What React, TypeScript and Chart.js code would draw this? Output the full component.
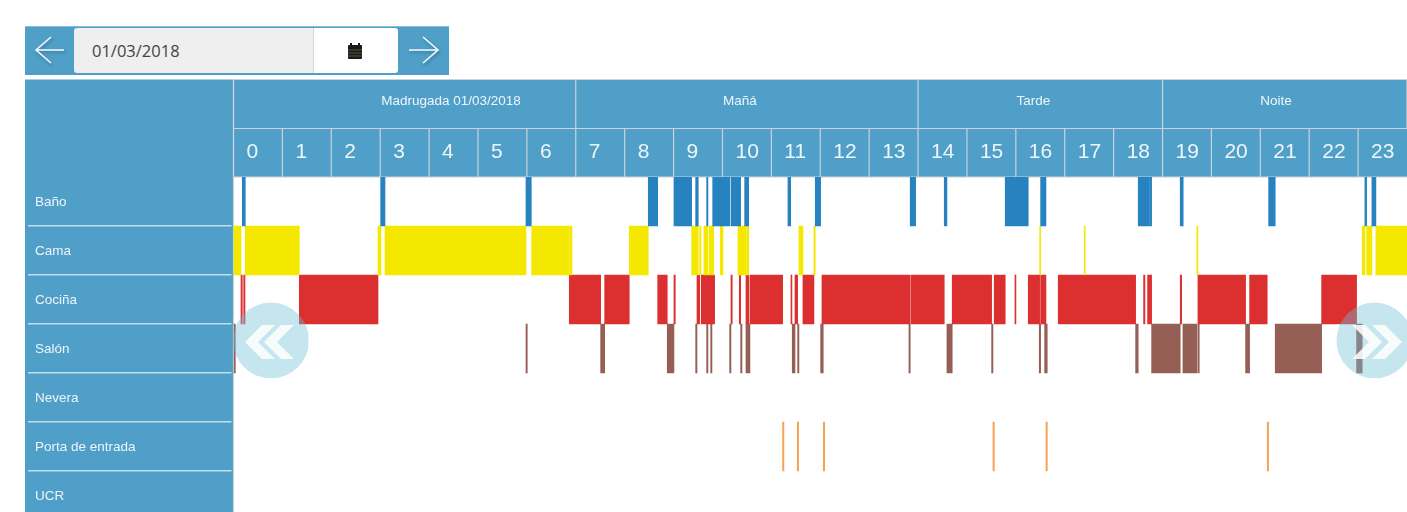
import React, { useEffect, useRef } from "react";
import { Chart, registerables } from "chart.js";

Chart.register(...registerables);

const rows = ["Baño", "Cama", "Cociña", "Salón", "Nevera", "Porta de entrada", "UCR"];
const hours = Array.from({ length: 24 }, (_, i) => i);
const dateLabel = "01/03/2018";
const bandStarts = [0, 7, 14, 19, 24];
const bandLabels = ["Madrugada 01/03/2018", "Mañá", "Tarde", "Noite"];
const bandLabelHours = [4.448, 10.358, 16.36, 21.32];

type Span = [number, number];

const bano: Span[] = [
  [0.18, 0.241], [3.01, 3.098], [5.982, 6.09], [8.483, 8.675], [9.008, 9.37], [9.452, 9.505],
  [9.677, 9.703], [9.8, 9.84], [9.84, 10.147], [10.174, 10.372], [10.454, 10.536], [11.339, 11.395],
  [11.898, 12.008], [13.84, 13.951], [14.536, 14.591], [15.783, 16.254], [16.507, 16.616],
  [18.503, 18.728], [18.736, 18.777], [19.362, 19.423], [21.17, 21.305], [23.139, 23.174], [23.282, 23.364],
];
const cama: Span[] = [
  [0, 0.153], [0.241, 1.346], [2.955, 3.016], [3.098, 5.982], [6.098, 6.867], [6.881, 6.922],
  [8.094, 8.483], [9.37, 9.505], [9.534, 9.56], [9.622, 9.703], [9.73, 9.82], [9.955, 10.01],
  [10.317, 10.481], [10.495, 10.536], [11.564, 11.646], [11.871, 11.898], [16.487, 16.507],
  [17.399, 17.419], [19.703, 19.724], [23.084, 23.139], [23.174, 23.282], [23.364, 24],
];
const cocina: Span[] = [
  [0.153, 0.18], [0.209, 0.235], [1.346, 2.955], [6.867, 7.509], [7.591, 8.094], [8.675, 8.871],
  [9.008, 9.035], [9.479, 9.534], [9.566, 9.84], [10.174, 10.2], [10.344, 10.372], [10.481, 10.536],
  [10.562, 11.231], [11.401, 11.421], [11.483, 11.538], [11.646, 11.871], [12.035, 13.84],
  [13.861, 14.536], [14.699, 15.505], [15.558, 15.783], [15.982, 16.002], [16.254, 16.487],
  [16.507, 16.616], [16.867, 18.45], [18.613, 18.64], [18.695, 18.777], [19.362, 19.391],
  [19.724, 20.699], [20.781, 21.141], [22.254, 22.969],
];
const salon: Span[] = [
  [0.01, 0.037], [5.982, 6.008], [7.509, 7.591], [8.871, 9.008], [9.452, 9.479], [9.677, 9.703],
  [9.759, 9.785], [10.147, 10.174], [10.372, 10.399], [10.481, 10.562], [11.427, 11.483],
  [11.538, 11.564], [12.008, 12.061], [13.814, 13.84], [14.591, 14.699], [15.505, 15.532],
  [16.479, 16.507], [16.589, 16.642], [18.45, 18.503], [18.777, 19.362], [19.417, 19.703],
  [19.724, 19.751], [20.699, 20.781], [21.305, 22.254], [22.969, 23.084],
];
const porta: Span[] = [
  [11.23, 11.257], [11.53, 11.558], [12.062, 12.09], [15.532, 15.56], [16.616, 16.644], [21.141, 21.169],
];

const BLUE = "#4f9fc8";
const LINE = "#c9d3d9";
const ROWLINE = "#c3deea";
const TEXT = "#eef6fa";
const FONT = "'Liberation Sans', Arial, sans-serif";

const headerPlugin = {
  id: "header",
  beforeDraw(chart: any) {
    const { ctx, chartArea, scales } = chart;
    const { left, top, bottom } = chartArea;
    const width = chart.width;
    const x = scales.x;
    const y = scales.y;
    const headerTop = 79.5;
    const midLine = 128.5;
    ctx.save();
    ctx.fillStyle = BLUE;
    ctx.fillRect(25, headerTop, left - 25, bottom - headerTop);
    ctx.fillRect(left, headerTop, width - left, top - headerTop);

    ctx.strokeStyle = LINE;
    ctx.lineWidth = 1.2;
    const seg = (x1: number, y1: number, x2: number, y2: number) => {
      ctx.beginPath();
      ctx.moveTo(x1, y1);
      ctx.lineTo(x2, y2);
      ctx.stroke();
    };
    seg(left, headerTop, left, bottom);
    seg(left, headerTop, width, headerTop);
    seg(left, midLine, width, midLine);
    seg(left, top, width, top);
    hours.forEach((h) => {
      const px = x.getPixelForValue(h);
      seg(px, midLine, px, top);
    });
    bandStarts.forEach((h) => {
      const px = x.getPixelForValue(h);
      seg(px, headerTop, px, midLine);
    });

    ctx.fillStyle = TEXT;
    ctx.font = `13.5px ${FONT}`;
    ctx.textAlign = "center";
    ctx.textBaseline = "middle";
    bandLabels.forEach((label, i) => {
      ctx.fillText(label, x.getPixelForValue(bandLabelHours[i]), 101);
    });

    ctx.strokeStyle = ROWLINE;
    ctx.lineWidth = 1.5;
    rows.slice(0, -1).forEach((_, i) => {
      const py = (y.getPixelForValue(i) + y.getPixelForValue(i + 1)) / 2 - 0.3;
      seg(28, py, left - 2, py);
    });
    ctx.restore();
  },
};

function toPoints(spans: Span[], row: string) {
  return spans.map((s) => ({ x: s, y: row }));
}

const noPadding = (scale: any) => {
  scale.paddingLeft = 0;
  scale.paddingRight = 0;
  scale.paddingTop = 0;
  scale.paddingBottom = 0;
};

function Chevrons({ dir }: { dir: "left" | "right" }) {
  const first =
    dir === "left"
      ? "245,342 262,325 275,325 258,342 275,359 262,359"
      : "1402,342 1385,325 1372,325 1389,342 1372,359 1385,359";
  const second =
    dir === "left"
      ? "264,342 281,325 294,325 277,342 294,359 281,359"
      : "1382,342 1365,325 1352,325 1369,342 1352,359 1365,359";
  return (
    <g fill="#ffffff" opacity="0.85">
      <polygon points={first} />
      <polygon points={second} />
    </g>
  );
}

export default function App() {
  const ref = useRef<HTMLCanvasElement | null>(null);

  useEffect(() => {
    if (!ref.current) return;
    const chart = new Chart(ref.current, {
      type: "bar",
      data: {
        labels: rows,
        datasets: [
          { label: rows[0], data: toPoints(bano, rows[0]), backgroundColor: "#2683bf" },
          { label: rows[1], data: toPoints(cama, rows[1]), backgroundColor: "#f4e800" },
          { label: rows[2], data: toPoints(cocina, rows[2]), backgroundColor: "#dc3030" },
          { label: rows[3], data: toPoints(salon, rows[3]), backgroundColor: "#965f55" },
          { label: rows[5], data: toPoints(porta, rows[5]), backgroundColor: "#f4a253" },
        ] as any,
      },
      options: {
        indexAxis: "y",
        responsive: false,
        animation: false,
        parsing: { xAxisKey: "x", yAxisKey: "y" } as any,
        grouped: false,
        categoryPercentage: 1,
        barPercentage: 1,
        layout: { padding: { left: 35, top: 79, right: 0, bottom: 0 } },
        plugins: { legend: { display: false }, tooltip: { enabled: false } },
        scales: {
          x: {
            type: "linear",
            position: "top",
            min: 0,
            max: 24,
            grid: { display: false },
            border: { display: false },
            afterFit(scale: any) {
              scale.height = 98;
              noPadding(scale);
            },
            ticks: {
              stepSize: 1,
              autoSkip: false,
              maxRotation: 0,
              minRotation: 0,
              align: "start",
              labelOffset: 13,
              padding: 4,
              color: TEXT,
              font: { family: FONT, size: 21 },
              callback: (v: any) => (Number(v) < 24 ? String(v) : ""),
            },
          },
          y: {
            type: "category",
            labels: rows,
            grid: { display: false },
            border: { display: false },
            afterFit(scale: any) {
              scale.width = 198.5;
              noPadding(scale);
            },
            ticks: {
              crossAlign: "far",
              autoSkip: false,
              labelOffset: 1,
              color: TEXT,
              font: { family: FONT, size: 13.5 },
            },
          },
        },
      } as any,
      plugins: [headerPlugin],
    });
    return () => chart.destroy();
  }, []);

  return (
    <div style={{ position: "absolute", left: 0, top: 0, width: 1407, height: 512, overflow: "hidden", background: "#fff", filter: "blur(0.4px)" }}>
      <canvas ref={ref} width={1407} height={520} style={{ position: "absolute", left: 0, top: 0, width: 1407, height: 520 }} />
      <div style={{ position: "absolute", left: 25, top: 26, width: 424, height: 49, background: BLUE, borderTop: "1px solid #86bfdb", boxSizing: "border-box" }} />
      <div
        style={{
          position: "absolute", left: 74, top: 28, width: 240, height: 45, background: "#efefef",
          boxSizing: "border-box", paddingLeft: 18, lineHeight: "46px", color: "#444",
          fontFamily: "'Open Sans', sans-serif", fontSize: 16.5, borderRight: "1px solid #d8d8d8", borderRadius: "3px 0 0 3px",
        }}
      >
        {dateLabel}
      </div>
      <div style={{ position: "absolute", left: 314, top: 28, width: 84, height: 45, background: "#fff", borderRadius: "0 3px 3px 0" }} />
      <svg width={1407} height={512} style={{ position: "absolute", left: 0, top: 0 }}>
        <defs>
          <clipPath id="leftClip"><rect x={233} y={300} width={75.5} height={78.5} /></clipPath>
          <clipPath id="rightClip"><rect x={1336} y={300} width={71} height={78.5} /></clipPath>
          <filter id="arrowShadow" x="-30%" y="-30%" width="160%" height="160%">
            <feDropShadow dx={1} dy={2} stdDeviation={1.5} floodColor="#1c5674" floodOpacity={0.6} />
          </filter>
        </defs>
        <g fill="none" stroke="#f4f9fc" strokeWidth={1.5} filter="url(#arrowShadow)">
          <path d="M64 50 H36 M51 37 L36 50 L51 63" />
          <path d="M409 50 H438 M423 37 L438 50 L423 63" />
        </g>
        <g fill="#1a1a1a">
          <rect x={348} y={45} width={14} height={14} rx={1} />
          <rect x={350} y={43} width={2} height={3} />
          <rect x={358} y={43} width={2} height={3} />
        </g>
        <g stroke="#8a7a55" strokeWidth={0.6}>
          <path d="M348 50 H362 M348 53 H362 M348 56 H362" />
        </g>
        <circle cx={271} cy={340.5} r={38} fill="rgba(110,190,215,0.4)" clipPath="url(#leftClip)" />
        <Chevrons dir="left" />
        <circle cx={1374.5} cy={340.5} r={38} fill="rgba(110,190,215,0.4)" clipPath="url(#rightClip)" />
        <Chevrons dir="right" />
      </svg>
    </div>
  );
}
